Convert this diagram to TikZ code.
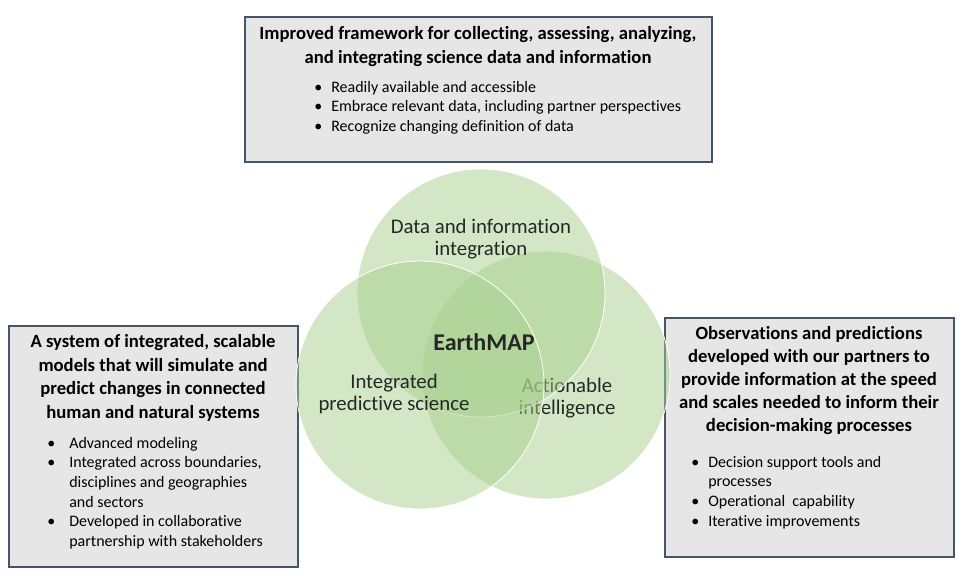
\documentclass[tikz,border=0pt]{standalone}
\usepackage{fontspec}
\setmainfont{Carlito}[Ligatures={NoCommon}]
\definecolor{boxfill}{RGB}{231,230,230}
\definecolor{boxline}{RGB}{68,84,106}
\definecolor{venn}{RGB}{169,208,142}
\newcommand{\bulA}{\makebox[12.75pt][l]{•}}
\newcommand{\bulB}{\makebox[16.5pt][l]{•}}
\begin{document}
\begin{tikzpicture}[x=0.75pt,y=-0.75pt,
  infobox/.style={draw=boxline, line width=0.9pt, fill=boxfill, inner sep=0pt},
  venncirc/.style={circle, fill=venn, fill opacity=0.5, draw=white, draw opacity=1, line width=0.6pt, minimum size=186pt, inner sep=0pt},
  titletext/.style={font=\fontsize{14}{17.8}\selectfont\bfseries, align=center, inner sep=0pt, anchor=north},
  bullettext/.style={font=\fontsize{12}{14.7}\selectfont, align=left, inner sep=0pt, anchor=north west},
  circtext/.style={font=\fontsize{15.6}{16.8}\selectfont, align=center, inner sep=0pt, text=black!85}
]
\useasboundingbox[fill=white] (0,0) rectangle (968,578);
% boxes
\node[infobox, minimum width=350.25pt, minimum height=108.75pt] (topbox) at (478.5,89.5) {};
\node[infobox, minimum width=216.75pt, minimum height=180.75pt] (leftbox) at (153.5,446.5) {};
\node[infobox, minimum width=216.75pt, minimum height=179.25pt] (rightbox) at (809.5,437.5) {};
% circles and their texts (layered as in the reference)
\node[venncirc] (cright) at (546,375) {};
\node[circtext] (tright) at (567,398) {Actionable\\intelligence};
\node[venncirc] (ctop) at (481,293) {};
\node[venncirc] (cleft) at (420,385) {};
\node[circtext] (tleft) at (394,394) {Integrated\\predictive science};
\node[circtext] (ttop) at (481,239) {Data and information\\integration};
\node[circtext, font=\fontsize{18}{20}\selectfont\bfseries] (tcenter) at (484,342) {EarthMAP};
% top box text
\node[titletext, font=\fontsize{14}{18}\selectfont\bfseries] (toptitle) at (478,26) {Improved framework for collecting, assessing, analyzing,\\and integrating science data and information};
\node[bullettext] (topbul) at (314,81) {\bulA Readily available and accessible\\\bulA Embrace relevant data, including partner perspectives\\\bulA Recognize changing definition of data};
% left box text
\node[titletext] (lefttitle) at (153,334) {A system of integrated, scalable\\models that will simulate and\\predict changes in connected\\human and natural systems};
\node[bullettext] (leftbul) at (47,437) {\bulB Advanced modeling\\\bulB Integrated across boundaries,\\\hspace*{16.5pt}disciplines and geographies\\\hspace*{16.5pt}and sectors\\\bulB Developed in collaborative\\\hspace*{16.5pt}partnership with stakeholders};
% right box text
\node[titletext, font=\fontsize{14}{17.2}\selectfont\bfseries] (righttitle) at (809,326) {Observations and predictions\\developed with our partners to\\provide information at the speed\\and scales needed to inform their\\decision-making processes};
\node[bullettext] (rightbul) at (691,456) {\bulA Decision support tools and\\\hspace*{12.75pt}processes\\\bulA Operational\ \ capability\\\bulA Iterative improvements};
\end{tikzpicture}
\end{document}
